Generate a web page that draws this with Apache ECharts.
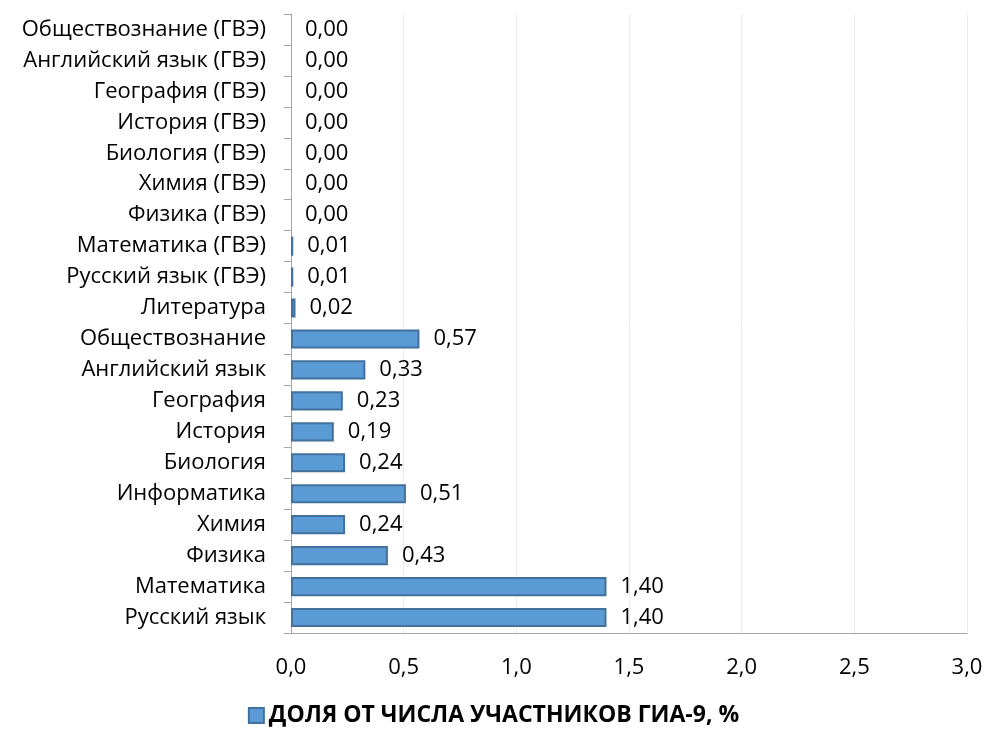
<!DOCTYPE html>
<html><head><meta charset="utf-8">
<script src="https://cdn.jsdelivr.net/npm/echarts@6/dist/echarts.min.js"></script>
<style>html,body{margin:0;padding:0;background:#fff}#c{width:987px;height:736px}</style>
</head><body><div id="c"></div>
<script>
const categories = ["Русский язык","Математика","Физика","Химия","Информатика","Биология","История","География","Английский язык","Обществознание","Литература","Русский язык (ГВЭ)","Математика (ГВЭ)","Физика (ГВЭ)","Химия (ГВЭ)","Биология (ГВЭ)","История (ГВЭ)","География (ГВЭ)","Английский язык (ГВЭ)","Обществознание (ГВЭ)"];
const values = [1.40,1.40,0.43,0.24,0.51,0.24,0.19,0.23,0.33,0.57,0.02,0.01,0.01,0.00,0.00,0.00,0.00,0.00,0.00,0.00];
const seriesName = "ДОЛЯ ОТ ЧИСЛА УЧАСТНИКОВ ГИА-9, %";
const xTicks = [0,0.5,1,1.5,2,2.5,3];
const FONT = "'Open Sans', sans-serif";
const chart = echarts.init(document.getElementById('c'));
chart.setOption({
  animation:false,
  textStyle:{fontFamily:FONT},
  grid:{left:291,right:20,top:14,bottom:103,containLabel:false},
  legend:{bottom:4,left:'center',itemWidth:15,itemHeight:15,itemGap:3,
    textStyle:{fontSize:23,fontWeight:'bold',color:'#000',fontFamily:FONT},
    data:[{name:seriesName,icon:'rect'}]},
  xAxis:{type:'value',min:xTicks[0],max:xTicks[xTicks.length-1],interval:0.5,
    axisLine:{show:true,lineStyle:{color:'#a6a6a6',width:1}},
    axisTick:{show:false},
    splitLine:{show:true,lineStyle:{color:'#ececec',width:1}},
    axisLabel:{margin:24,fontSize:22,color:'#000',formatter:v=>v.toFixed(1).replace('.',',')}},
  yAxis:{type:'category',data:categories,
    axisLine:{show:true,lineStyle:{color:'#a6a6a6',width:1}},
    axisTick:{show:true,length:7,alignWithLabel:false,lineStyle:{color:'#a6a6a6'}},
    axisLabel:{fontSize:22,color:'#000',margin:25}},
  series:[{name:seriesName,type:'bar',
    data:values.map(v=>({value:v,itemStyle:v===0?{borderWidth:0}:undefined})),
    barWidth:'62%',
    itemStyle:{color:'#5B9BD5',borderColor:'#41719C',borderWidth:2},
    label:{show:true,position:'right',distance:14,fontSize:22,color:'#000',
      formatter:p=>p.value.toFixed(2).replace('.',',')}}]
});
</script></body></html>
